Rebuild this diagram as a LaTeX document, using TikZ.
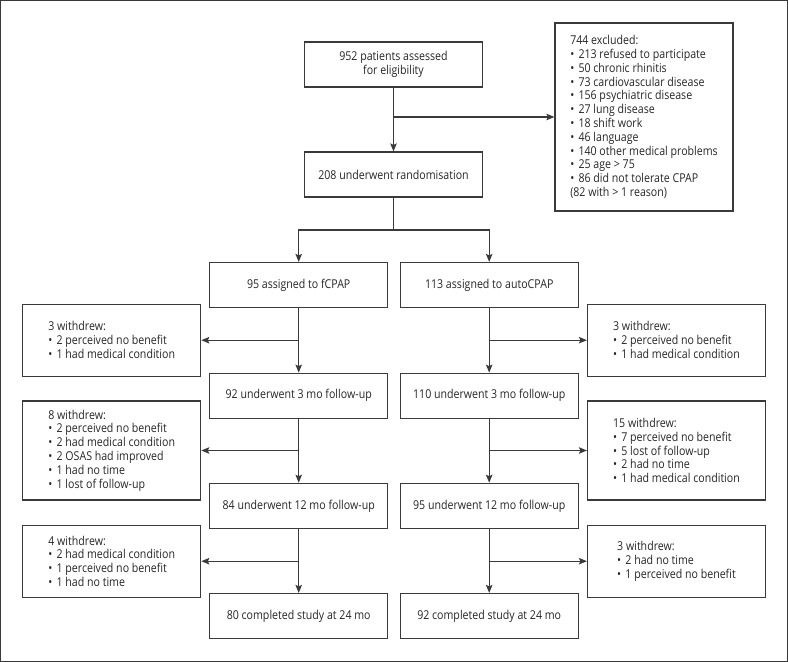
\documentclass[tikz,border=0pt]{standalone}
\usepackage{fontspec}
\setmainfont{Open Sans}[FakeStretch=0.87]
\usetikzlibrary{arrows.meta}
\definecolor{linegray}{HTML}{3A3A3A}
\definecolor{textgray}{HTML}{262626}
\newcommand{\bul}{\textbullet\hspace{0.35em}}

\begin{document}
\begin{tikzpicture}[x=1pt,y=-1pt,
    box/.style={draw=linegray,line width=1.2pt,minimum width=178pt,inner sep=0pt,
      align=left,text=textgray,font=\fontsize{12.2}{13.8}\selectfont},
    arr/.style={draw=linegray,line width=1.2pt,-{Stealth[length=8pt,width=6.5pt,inset=1.5pt]}}]
\useasboundingbox (0,0) rectangle (788,662);
\draw[linegray,line width=1.2pt] (0.8,0.8) rectangle (787.2,661.2);

\node[box,minimum height=45pt,align=center] (elig) at (393.5,64.5) {952 patients assessed\\for eligibility};
\node[box,minimum height=45pt] (rand) at (393.5,174.5) {208 underwent randomisation};
\node[box,minimum height=188pt] (excl) at (644,117) {744 excluded:\\
  \bul 213 refused to participate\\ \bul 50 chronic rhinitis\\
  \bul 73 cardiovascular disease\\ \bul 156 psychiatric disease\\
  \bul 27 lung disease\\ \bul 18 shift work\\ \bul 46 language\\
  \bul 140 other medical problems\\ \bul 25 age > 75\\
  \bul 86 did not tolerate CPAP\\ (82 with > 1 reason)};

\node[box,minimum height=45pt] (fcpap) at (298.7,285) {95 assigned to fCPAP};
\node[box,minimum height=45pt] (auto) at (489.2,285) {113 assigned to autoCPAP};
\node[box,minimum height=45pt] (f3) at (298.7,395.7) {92 underwent 3 mo follow-up};
\node[box,minimum height=45pt] (a3) at (489.2,395.7) {110 underwent 3 mo follow-up};
\node[box,minimum height=45pt] (f12) at (298.7,505.8) {84 underwent 12 mo follow-up};
\node[box,minimum height=45pt] (a12) at (489.2,505.8) {95 underwent 12 mo follow-up};
\node[box,minimum height=45pt] (f24) at (298.7,616) {80 completed study at 24 mo};
\node[box,minimum height=45pt] (a24) at (489.2,616) {92 completed study at 24 mo};

\node[box,minimum height=72pt] (wl1) at (111.7,340.2) {3 withdrew:\\
  \bul 2 perceived no benefit\\ \bul 1 had medical condition};
\node[box,minimum height=99pt] (wl2) at (111.7,450.5) {8 withdrew:\\
  \bul 2 perceived no benefit\\ \bul 2 had medical condition\\
  \bul 2 OSAS had improved\\ \bul 1 had no time\\ \bul 1 lost of follow-up};
\node[box,minimum height=72pt] (wl3) at (111.7,561.2) {4 withdrew:\\
  \bul 2 had medical condition\\ \bul 1 perceived no benefit\\ \bul 1 had no time};
\node[box,minimum height=72pt] (wr1) at (676.5,340.2) {3 withdrew:\\
  \bul 2 perceived no benefit\\ \bul 1 had medical condition};
\node[box,minimum height=99pt] (wr2) at (676.5,450.5) {15 withdrew:\\
  \bul 7 perceived no benefit\\ \bul 5 lost of follow-up\\
  \bul 2 had no time\\ \bul 1 had medical condition};
\node[box,minimum height=72pt] (wr3) at (676.5,561.2) {3 withdrew:\\
  \bul 2 had no time\\ \bul 1 perceived no benefit};

\coordinate (ex) at (elig.south |- excl.west);
\coordinate (split) at (393.5,230);
\draw[arr] (elig) -- (rand);
\draw[arr] (ex) -- (excl);
\draw[linegray,line width=1.2pt] (rand) -- (split);
\draw[arr] (split) -| (fcpap);
\draw[arr] (split) -| (auto);

\draw[arr] (fcpap) -- (f3);
\draw[arr] (f3) -- (f12);
\draw[arr] (f12) -- (f24);
\draw[arr] (auto) -- (a3);
\draw[arr] (a3) -- (a12);
\draw[arr] (a12) -- (a24);

\coordinate (bl1) at (fcpap.south |- wl1.east);
\coordinate (bl2) at (fcpap.south |- wl2.east);
\coordinate (bl3) at (fcpap.south |- wl3.east);
\coordinate (br1) at (auto.south |- wr1.west);
\coordinate (br2) at (auto.south |- wr2.west);
\coordinate (br3) at (auto.south |- wr3.west);
\draw[arr] (bl1) -- (wl1);
\draw[arr] (bl2) -- (wl2);
\draw[arr] (bl3) -- (wl3);
\draw[arr] (br1) -- (wr1);
\draw[arr] (br2) -- (wr2);
\draw[arr] (br3) -- (wr3);
\end{tikzpicture}
\end{document}
